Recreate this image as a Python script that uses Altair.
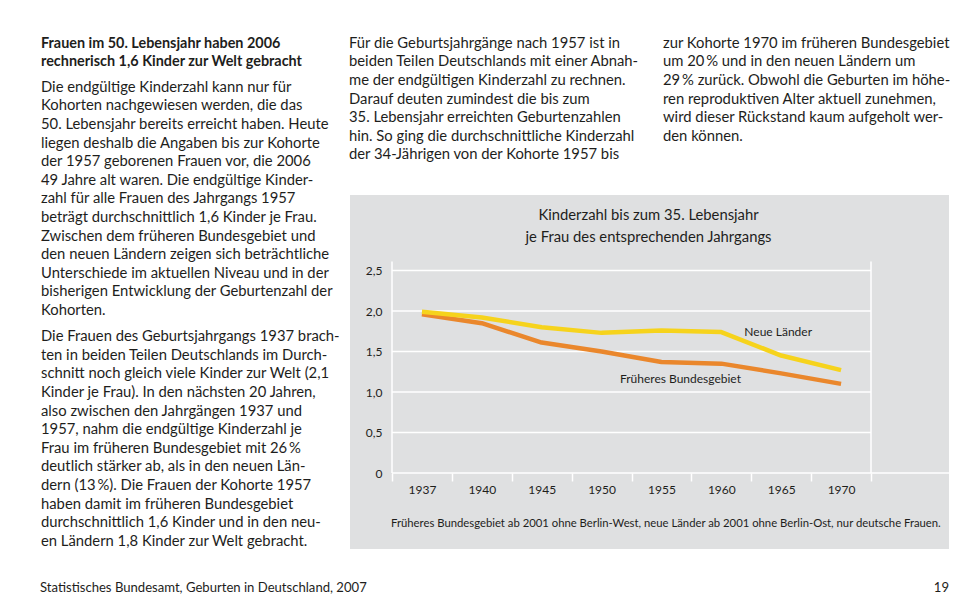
import altair as alt
import pandas as pd

# ---------------- data ----------------
years = ["1937", "1940", "1945", "1950", "1955", "1960", "1965", "1970"]
neue_laender = [1.99, 1.92, 1.80, 1.73, 1.76, 1.74, 1.45, 1.27]
frueheres_bg = [1.96, 1.85, 1.61, 1.50, 1.37, 1.35, 1.23, 1.10]
series_names = ["Früheres Bundesgebiet", "Neue Länder"]
series_colors = ["#ea872c", "#f6d31c"]
y_ticks = [0, 0.5, 1.0, 1.5, 2.0, 2.5]
grid_values = [0.5, 1.0, 1.5, 2.0, 2.5]

label_text = ["Neue Länder", "Früheres Bundesgebiet"]
label_year = ["1965", "1955"]
label_value = [1.74, 1.157]

chart_title = ["Kinderzahl bis zum 35. Lebensjahr", "je Frau des entsprechenden Jahrgangs"]
note = "Früheres Bundesgebiet ab 2001 ohne Berlin-West, neue Länder ab 2001 ohne Berlin-Ost, nur deutsche Frauen."

left_heading = [
    "Frauen im 50. Lebensjahr haben 2006",
    "rechnerisch 1,6 Kinder zur Welt gebracht",
]
left_para1 = [
    "Die endgültige Kinderzahl kann nur für",
    "Kohorten nachgewiesen werden, die das",
    "50. Lebensjahr bereits erreicht haben. Heute",
    "liegen deshalb die Angaben bis zur Kohorte",
    "der 1957 geborenen Frauen vor, die 2006",
    "49 Jahre alt waren. Die endgültige Kinder-",
    "zahl für alle Frauen des Jahrgangs 1957",
    "beträgt durchschnittlich 1,6 Kinder je Frau.",
    "Zwischen dem früheren Bundesgebiet und",
    "den neuen Ländern zeigen sich beträchtliche",
    "Unterschiede im aktuellen Niveau und in der",
    "bisherigen Entwicklung der Geburtenzahl der",
    "Kohorten.",
]
left_para2 = [
    "Die Frauen des Geburtsjahrgangs 1937 brach-",
    "ten in beiden Teilen Deutschlands im Durch-",
    "schnitt noch gleich viele Kinder zur Welt (2,1",
    "Kinder je Frau). In den nächsten 20 Jahren,",
    "also zwischen den Jahrgängen 1937 und",
    "1957, nahm die endgültige Kinderzahl je",
    "Frau im früheren Bundesgebiet mit 26\u2009%",
    "deutlich stärker ab, als in den neuen Län-",
    "dern (13\u2009%). Die Frauen der Kohorte 1957",
    "haben damit im früheren Bundesgebiet",
    "durchschnittlich 1,6 Kinder und in den neu-",
    "en Ländern 1,8 Kinder zur Welt gebracht.",
]
middle_col = [
    "Für die Geburtsjahrgänge nach 1957 ist in",
    "beiden Teilen Deutschlands mit einer Abnah-",
    "me der endgültigen Kinderzahl zu rechnen.",
    "Darauf deuten zumindest die bis zum",
    "35. Lebensjahr erreichten Geburtenzahlen",
    "hin. So ging die durchschnittliche Kinderzahl",
    "der 34-Jährigen von der Kohorte 1957 bis",
]
right_col = [
    "zur Kohorte 1970 im früheren Bundesgebiet",
    "um 20\u2009% und in den neuen Ländern um",
    "29\u2009% zurück. Obwohl die Geburten im höhe-",
    "ren reproduktiven Alter aktuell zunehmen,",
    "wird dieser Rückstand kaum aufgeholt wer-",
    "den können.",
]
footer_left = "Statistisches Bundesamt, Geburten in Deutschland, 2007"
footer_right = "19"

# ---------------- style ----------------
FONT = "Lato"
TXT = "#1e1e1c"
PANEL = "#dfe0e1"
BODY = 14.8
W, H = 479, 202.5

df = pd.DataFrame({
    "Jahrgang": years * 2,
    "Kinderzahl": frueheres_bg + neue_laender,
    "Gebiet": [series_names[0]] * len(years) + [series_names[1]] * len(years),
})
grid_df = pd.DataFrame({"v": grid_values})

x_axis = alt.Axis(
    title=None, grid=False, domain=False, ticks=True, tickBand="extent",
    tickColor="white", tickWidth=1.5, tickSize=8, labelAngle=0, labelPadding=3,
    labelFontSize=12, labelColor=TXT, labelFont=FONT, zindex=1,
)
y_axis = alt.Axis(
    title=None, grid=False, domain=False, ticks=False, values=y_ticks,
    labelExpr="datum.value == 0 ? '0' : replace(format(datum.value, '.1f'), '.', ',')",
    labelPadding=10, labelFontSize=12, labelColor=TXT, labelFont=FONT, zindex=1,
)
x_scale = alt.Scale(type="band", domain=years, paddingInner=0, paddingOuter=0)
y_scale = alt.Scale(domain=[0, 2.5], nice=False, zero=True)

one = alt.Data(values=[{"k": 1}])

panel = alt.Chart(one).mark_rect(color=PANEL).encode(
    x=alt.value(-42), x2=alt.value(557), y=alt.value(-75.5), y2=alt.value(278.5)
)

grid = alt.Chart(grid_df).mark_rule(color="white", strokeWidth=1.5).encode(
    y=alt.Y("v:Q", scale=y_scale, axis=y_axis),
    x=alt.value(0), x2=alt.value(W),
)

xline = alt.Chart(one).mark_rule(color="white", strokeWidth=1.5).encode(
    x=alt.value(0), x2=alt.value(557), y=alt.value(H)
)
vleft = alt.Chart(one).mark_rule(color="white", strokeWidth=1.5).encode(
    x=alt.value(0), y=alt.value(-9), y2=alt.value(H)
)
vright = alt.Chart(one).mark_rule(color="white", strokeWidth=1.5).encode(
    x=alt.value(W), y=alt.value(-9), y2=alt.value(H)
)

lines = alt.Chart(df).mark_line(strokeWidth=4.5, strokeJoin="round", strokeCap="butt").encode(
    x=alt.X("Jahrgang:N", scale=x_scale, axis=x_axis, bandPosition=0.5, sort=years),
    y=alt.Y("Kinderzahl:Q", scale=y_scale, axis=y_axis),
    color=alt.Color("Gebiet:N", scale=alt.Scale(domain=series_names, range=series_colors), legend=None),
    order=alt.Order("Jahrgang:N"),
)

lab_df = pd.DataFrame({"t": label_text, "j": label_year, "v": label_value})


def series_label(i, dx):
    return alt.Chart(lab_df.iloc[[i]]).mark_text(
        font=FONT, fontSize=12, color=TXT, dx=dx, align="center", baseline="middle"
    ).encode(
        x=alt.X("j:N", scale=x_scale, axis=x_axis, bandPosition=0.5, sort=years),
        y=alt.Y("v:Q", scale=y_scale, axis=y_axis),
        text="t:N",
    )


def block(lines_, x, y, size=BODY, weight="normal", align="left", lh=18.6):
    return alt.Chart(one).mark_text(
        text=lines_, align=align, baseline="alphabetic", fontSize=size,
        fontWeight=weight, lineHeight=lh, font=FONT, color=TXT,
    ).encode(x=alt.value(x), y=alt.value(y))


blocks = [
    block(left_heading, -351, -222.7, size=14.4, weight="bold"),
    block(left_para1, -351, -178.7),
    block(left_para2, -351, 70.7),
    block(middle_col, -43, -222.7),
    block(right_col, 271, -222.7),
    block(chart_title, 256.5, -50.4, size=14.8, align="center", lh=21.5),
    block([note], -1, 256.3, size=11.3),
    block([footer_left], -352, 321.5, size=13.1),
    block([footer_right], 557, 321.5, size=13.1, align="right"),
]

chart = alt.layer(
    panel, grid, xline, vleft, vright, lines,
    series_label(0, -3), series_label(1, 19),
    *blocks,
).properties(
    width=W, height=H,
    padding={"left": 384, "top": 262.5, "right": 81, "bottom": 124},
    autosize=alt.AutoSizeParams(type="none"),
    background="white",
).configure_view(stroke=None)

chart.save("out.html", embed_options={"renderer": "svg", "actions": False})
